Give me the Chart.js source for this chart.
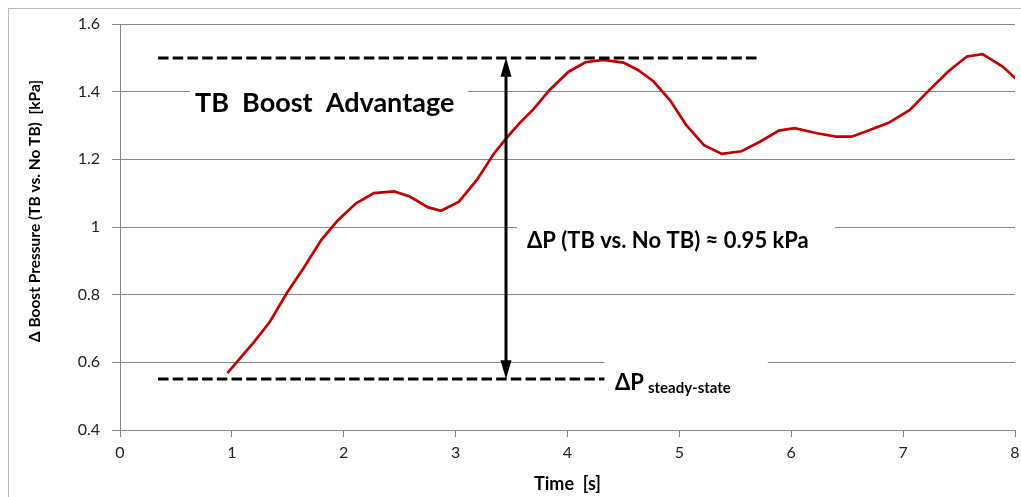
<!DOCTYPE html>
<html>
<head>
<meta charset="utf-8">
<script src="https://cdn.jsdelivr.net/npm/chart.js@4.4.1/dist/chart.umd.min.js"></script>
<style>
  html, body { margin: 0; padding: 0; background: #fff; }
  #wrap { width: 1021px; height: 497px; position: relative; }
</style>
</head>
<body>
<div id="wrap"><canvas id="boost-canvas"></canvas></div>
<script>
// 时间轴 (s) 与增压差 (kPa)
const timeS = [0.96, 1.12, 1.19, 1.34, 1.49, 1.64, 1.80, 1.95, 2.11, 2.27, 2.45, 2.59, 2.755, 2.87,
  3.03, 3.19, 3.34, 3.47, 3.58, 3.69, 3.84, 4.01, 4.16, 4.32, 4.50, 4.63, 4.77, 4.92, 5.06, 5.22,
  5.38, 5.555, 5.72, 5.89, 6.03, 6.23, 6.40, 6.54, 6.69, 6.87, 7.06, 7.22, 7.40, 7.57, 7.71, 7.89, 8.05];
const boostDelta = [0.568, 0.630, 0.657, 0.720, 0.804, 0.878, 0.962, 1.021, 1.070, 1.100, 1.105, 1.090, 1.058, 1.048,
  1.075, 1.139, 1.216, 1.269, 1.310, 1.346, 1.405, 1.459, 1.487, 1.494, 1.486, 1.464, 1.430, 1.373, 1.302, 1.242,
  1.216, 1.224, 1.252, 1.285, 1.292, 1.277, 1.267, 1.267, 1.285, 1.308, 1.346, 1.400, 1.459, 1.504, 1.511, 1.474, 1.425];

// 参考虚线 (kPa) 及其起止时间
const refLevels = [1.5, 0.55];
const refStart = [0.34, 0.34];
const refEnd = [5.71, 4.33];
const arrowTime = 3.45;

// 文本标注（数据坐标，基线位置）
const noteTexts = ['TB  Boost  Advantage', '\u0394P (TB vs. No TB) \u2248 0.95 kPa', '\u0394P'];
const noteTime = [0.67, 3.637, 4.424];
const noteValue = [1.340, 0.938, 0.518];
const noteSub = ['', '', 'steady-state'];
// 文本底框（遮挡网格线）：[x0, x1, y0, y1]
const noteBoxes = [[0.626, 3.11, 1.30, 1.47], [3.548, 6.39, 0.90, 1.05], [4.33, 5.79, 0.50, 0.63]];

const yTitle = '\u0394 Boost Pressure (TB vs. No TB)  [kPa]';
const FONT = 'Lato, "Open Sans", sans-serif';
const GRID = '#868686';

var annotate = {
  id: 'annotate',
  beforeDraw(chart) {
    var ctx = chart.ctx;
    ctx.save();
    ctx.strokeStyle = '#bdbdbd';
    ctx.lineWidth = 1;
    ctx.strokeRect(8.5, 8.5, chart.width + 20, chart.height + 20);
    ctx.restore();
  },
  beforeDatasetsDraw(chart) {
    var ctx = chart.ctx, xs = chart.scales.x, ys = chart.scales.y;
    ctx.save();
    ctx.fillStyle = '#fff';
    noteBoxes.forEach(function(b) {
      var x0 = xs.getPixelForValue(b[0]), x1 = xs.getPixelForValue(b[1]);
      var y0 = ys.getPixelForValue(b[3]), y1 = ys.getPixelForValue(b[2]);
      ctx.fillRect(x0, y0, x1 - x0, y1 - y0);
    });
    ctx.restore();
  },
  afterDatasetsDraw(chart) {
    var ctx = chart.ctx, xs = chart.scales.x, ys = chart.scales.y;
    ctx.save();
    // 虚线
    ctx.strokeStyle = '#000';
    ctx.lineWidth = 3;
    ctx.setLineDash([10.5, 4.2]);
    refLevels.forEach(function(v, i) {
      var y = Math.round(ys.getPixelForValue(v));
      ctx.beginPath();
      ctx.moveTo(xs.getPixelForValue(refStart[i]), y);
      ctx.lineTo(xs.getPixelForValue(refEnd[i]), y);
      ctx.stroke();
    });
    ctx.setLineDash([]);

    // 双向箭头
    var ax = Math.round(xs.getPixelForValue(arrowTime));
    var yTop = ys.getPixelForValue(refLevels[0]);
    var yBot = ys.getPixelForValue(refLevels[1]);
    var headH = 19, headW = 5.5;
    ctx.lineWidth = 3;
    ctx.beginPath();
    ctx.moveTo(ax, yTop + headH - 1);
    ctx.lineTo(ax, yBot - headH + 1);
    ctx.stroke();
    ctx.fillStyle = '#000';
    ctx.beginPath();
    ctx.moveTo(ax, yTop);
    ctx.lineTo(ax - headW, yTop + headH);
    ctx.lineTo(ax + headW, yTop + headH);
    ctx.closePath();
    ctx.fill();
    ctx.beginPath();
    ctx.moveTo(ax, yBot);
    ctx.lineTo(ax - headW, yBot - headH);
    ctx.lineTo(ax + headW, yBot - headH);
    ctx.closePath();
    ctx.fill();

    // 文本
    var sizes = [27, 22, 22];
    ctx.textBaseline = 'alphabetic';
    ctx.textAlign = 'left';
    noteTexts.forEach(function(t, i) {
      var x = xs.getPixelForValue(noteTime[i]);
      var y = ys.getPixelForValue(noteValue[i]);
      ctx.font = 'bold ' + sizes[i] + 'px ' + FONT;
      ctx.fillText(t, x, y);
      if (noteSub[i]) {
        var w = ctx.measureText(t).width;
        ctx.font = 'bold 15px ' + FONT;
        ctx.fillText(noteSub[i], x + w + 4, y + 3);
      }
    });

    // Y 轴标题（手动放置，略高于绘图区中心）
    ctx.translate(35, 211);
    ctx.rotate(-Math.PI / 2);
    ctx.textAlign = 'center';
    ctx.textBaseline = 'middle';
    ctx.font = 'bold 15.5px ' + FONT;
    ctx.fillText(yTitle, 0, 0);
    ctx.restore();
  }
};

var ctx = document.getElementById('boost-canvas').getContext('2d');
var chart = new Chart(ctx, {
  type: 'line',
  data: {
    datasets: [{
      label: 'Delta boost',
      data: timeS.map(function(t, i) { return { x: t, y: boostDelta[i] }; }),
      borderColor: '#C00000',
      borderWidth: 2.7,
      pointRadius: 0,
      tension: 0,
      fill: false
    }]
  },
  options: {
    responsive: true,
    maintainAspectRatio: false,
    animation: false,
    events: [],
    layout: { padding: { top: 24, right: 6, left: 0, bottom: 0 } },
    scales: {
      x: {
        type: 'linear',
        min: 0,
        max: 8,
        afterFit: function(s) { s.height = 67; s.paddingLeft = 0; s.paddingRight = 0; },
        ticks: {
          stepSize: 1,
          color: '#222',
          padding: 6,
          font: { family: FONT, size: 16 }
        },
        grid: { drawOnChartArea: false, drawTicks: true, tickLength: 7, color: GRID },
        border: { color: GRID, width: 1 },
        title: {
          display: true,
          text: 'Time  [s]',
          color: '#000',
          padding: { top: 0, bottom: 2 },
          font: { family: FONT, size: 18, weight: 'bold' }
        }
      },
      y: {
        min: 0.4,
        max: 1.6,
        afterFit: function(s) { s.width = 120; },
        ticks: {
          stepSize: 0.2,
          color: '#222',
          padding: 12,
          font: { family: FONT, size: 16 },
          callback: function(v) { return parseFloat(v.toFixed(1)).toString(); }
        },
        grid: { color: GRID, lineWidth: 1, tickLength: 8 },
        border: { color: GRID, width: 1 },
        title: { display: false }
      }
    },
    plugins: {
      legend: { display: false },
      tooltip: { enabled: false }
    }
  },
  plugins: [annotate]
});
</script>
</body>
</html>
